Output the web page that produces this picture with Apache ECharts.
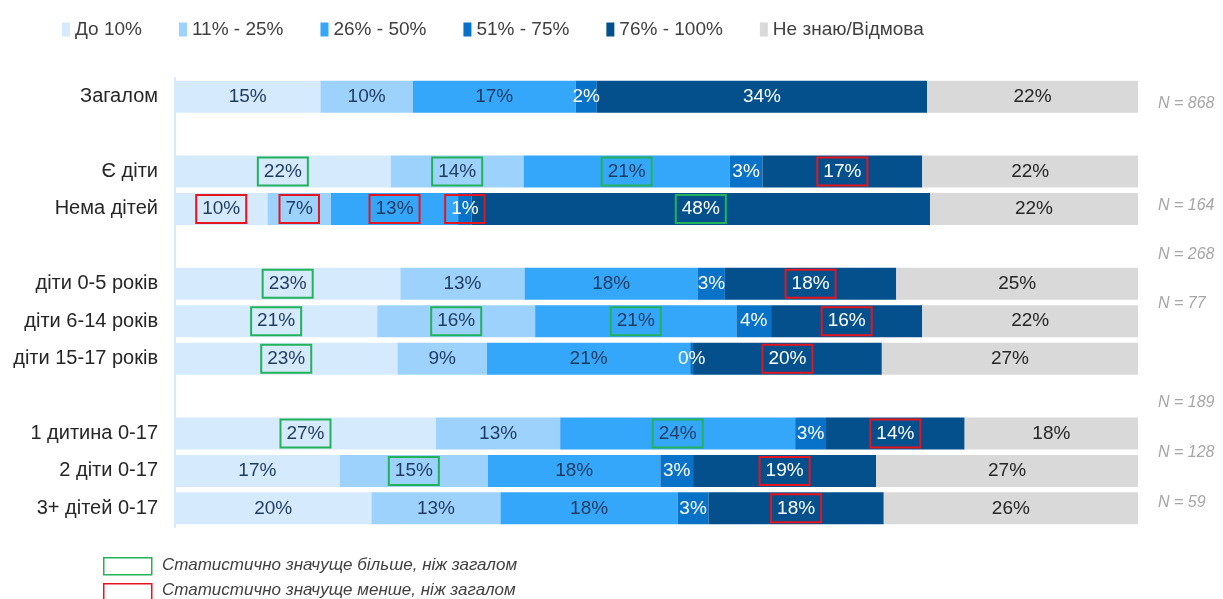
<!DOCTYPE html>
<html>
<head>
<meta charset="utf-8">
<script src="https://cdn.jsdelivr.net/npm/echarts@6/dist/echarts.min.js"></script>
<style>
    html, body { margin: 0; padding: 0; background: #fff; }
    #chart { width: 1223px; height: 599px; }
</style>
</head>
<body>
<div id="chart"></div>
<script>
// категорії (порожні рядки - розриви між групами)
const categories = ['Загалом', ' ', 'Є діти', 'Нема дітей', '  ', 'діти 0-5 років', 'діти 6-14 років', 'діти 15-17 років', '   ', '1 дитина 0-17', '2 діти 0-17', '3+ дітей 0-17']

const seriesNames = ['До 10%', '11% - 25%', '26% - 50%', '51% - 75%', '76% - 100%', 'Не знаю/Відмова']

// частки, % (null для порожніх рядків)
const upTo10 = [15.1, null, 22.4, 9.6, null, 23.4, 21.0, 23.1, null, 27.1, 17.1, 20.4]
const from11to25 = [9.6, null, 13.8, 6.6, null, 12.9, 16.4, 9.3, null, 12.9, 15.4, 13.4]
const from26to50 = [16.9, null, 21.4, 13.2, null, 18.0, 20.9, 21.1, null, 24.4, 17.9, 18.4]
const from51to75 = [2.2, null, 3.4, 1.4, null, 2.8, 3.6, 0.3, null, 3.2, 3.4, 3.2]
const from76to100 = [34.3, null, 16.6, 47.6, null, 17.8, 15.7, 19.6, null, 14.4, 19.0, 18.2]
const dontKnow = [21.9, null, 22.4, 21.6, null, 25.1, 22.4, 26.6, null, 18.0, 27.2, 26.4]

// значущість: g - більше, ніж загалом, r - менше, ніж загалом
const sigUpTo10 = ['', '', 'g', 'r', '', 'g', 'g', 'g', '', 'g', '', '']
const sig11to25 = ['', '', 'g', 'r', '', '', 'g', '', '', '', 'g', '']
const sig26to50 = ['', '', 'g', 'r', '', '', 'g', '', '', 'g', '', '']
const sig51to75 = ['', '', '', 'r', '', '', '', '', '', '', '', '']
const sig76to100 = ['', '', 'r', 'g', '', 'r', 'r', 'r', '', 'r', 'r', 'r']
const sigDontKnow = ['', '', '', '', '', '', '', '', '', '', '', '']

// підписи N праворуч (позиція - у рядках від першої категорії)
const nLabels = ['N = 868', 'N = 164', 'N = 268', 'N = 77', 'N = 189', 'N = 128', 'N = 59']
const nRowPos = [0.21, 2.94, 4.25, 5.56, 8.21, 9.55, 10.86]

const colors = ['#d5eafc', '#9dd2fc', '#35a7fb', '#0872c8', '#03508c', '#d9d9d9']
const labelColors = ['#1f3a5f', '#1f3a5f', '#1f3a5f', '#ffffff', '#ffffff', '#262626']

const values = [upTo10, from11to25, from26to50, from51to75, from76to100, dontKnow]
const sigs = [sigUpTo10, sig11to25, sig26to50, sig51to75, sig76to100, sigDontKnow]

const gridTop = 78
const gridBottom = 72
const gridHeight = 599 - gridTop - gridBottom
const band = gridHeight / categories.length

const boxColors = { g: '#22b25a', r: '#e5141f' }
const font = 'Liberation Sans, Arial, sans-serif'

const series = seriesNames.map((name, i) => ({
    name: name,
    type: 'bar',
    stack: 'total',
    barWidth: 32,
    itemStyle: { color: colors[i] },
    label: {
        show: true,
        position: 'inside',
        color: labelColors[i],
        fontSize: 19,
        lineHeight: 21,
        fontFamily: font,
        formatter: p => Math.round(p.value) + '%'
    },
    data: values[i].map((v, j) => {
        if (v === null) return null
        const s = sigs[i][j]
        if (!s) return v
        return {
            value: v,
            label: {
                borderColor: boxColors[s],
                borderWidth: 2,
                padding: [4, 6, 3, 6]
            }
        }
    })
}))

const chart = echarts.init(document.getElementById('chart'))

const nTexts = nLabels.map((t, k) => ({
    type: 'text',
    left: 1158,
    top: gridTop + (nRowPos[k] + 0.5) * band - 9,
    style: {
        text: t,
        fill: '#a6a6a6',
        font: 'italic 16px "Liberation Sans", Arial, sans-serif'
    }
}))

chart.setOption({
    animation: false,
    legend: {
        left: 57,
        top: 15,
        icon: 'rect',
        itemWidth: 8,
        itemHeight: 14,
        itemGap: 37,
        textStyle: {
            fontSize: 19,
            color: '#404040',
            fontFamily: font
        },
        data: seriesNames
    },
    grid: {
        left: 175,
        right: 85,
        top: gridTop,
        bottom: gridBottom
    },
    xAxis: {
        type: 'value',
        min: 0,
        max: 100,
        show: false
    },
    yAxis: {
        type: 'category',
        inverse: true,
        data: categories,
        axisTick: { show: false },
        axisLine: { lineStyle: { color: '#d6eafc', width: 2 } },
        axisLabel: {
            margin: 17,
            fontSize: 20,
            color: '#262626',
            fontFamily: font
        }
    },
    series: series,
    graphic: nTexts.concat([
        {
            type: 'rect',
            left: 103,
            top: 557,
            shape: { width: 48, height: 17 },
            style: { fill: '#fff', stroke: '#22b25a', lineWidth: 1.5 }
        },
        {
            type: 'text',
            left: 162,
            top: 557,
            style: {
                text: 'Статистично значуще більше, ніж загалом',
                fill: '#404040',
                font: 'italic 17px "Liberation Sans", Arial, sans-serif'
            }
        },
        {
            type: 'rect',
            left: 103,
            top: 583,
            shape: { width: 48, height: 20 },
            style: { fill: '#fff', stroke: '#e5141f', lineWidth: 1.5 }
        },
        {
            type: 'text',
            left: 162,
            top: 582,
            style: {
                text: 'Статистично значуще менше, ніж загалом',
                fill: '#404040',
                font: 'italic 17px "Liberation Sans", Arial, sans-serif'
            }
        }
    ])
})
</script>
</body>
</html>
